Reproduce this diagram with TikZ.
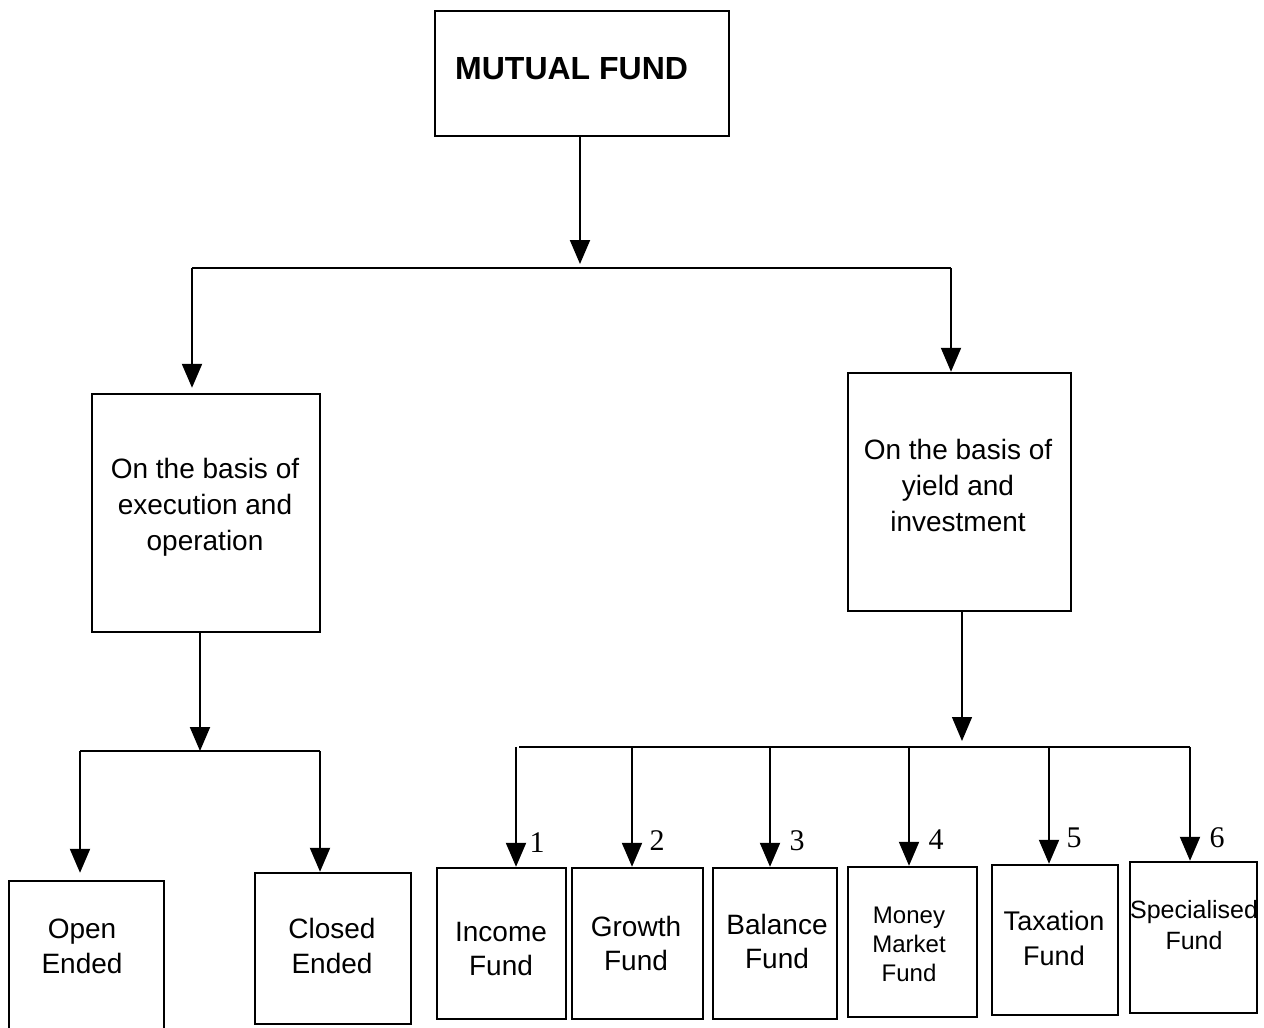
\documentclass[tikz,border=0pt]{standalone}
\usepackage{fontspec}
\setmainfont{Liberation Sans}
\newfontfamily\numfont{Liberation Serif}
\usetikzlibrary{arrows.meta}
\tikzset{
  box/.style={draw, line width=2.4pt, inner sep=0pt},
  arr/.style={-{Triangle[length=24pt,width=20pt]}, line width=2pt},
  ln/.style={line width=2pt},
  lab/.style={align=center, inner sep=0pt, font=\fontsize{28}{36}\selectfont},
  num/.style={inner sep=0pt, font=\numfont\fontsize{30}{30}\selectfont}
}
\begin{document}
\begin{tikzpicture}[x=1pt,y=-1pt]
\useasboundingbox (0,0) rectangle (1264,1028);
% boxes
\node[box, minimum width=294, minimum height=125] (top) at (582,73.5) {};
\node[box, minimum width=228, minimum height=238] (exec) at (206,513) {};
\node[box, minimum width=223, minimum height=238] (yield) at (959.5,492) {};
\node[box, minimum width=155, minimum height=159] (open) at (86.5,960.5) {};
\node[box, minimum width=156, minimum height=151] (closed) at (333,948.5) {};
\node[box, minimum width=129, minimum height=151] (income) at (501.5,943.5) {};
\node[box, minimum width=131, minimum height=151] (growth) at (637.5,943.5) {};
\node[box, minimum width=124, minimum height=151] (balance) at (775,943.5) {};
\node[box, minimum width=129, minimum height=150] (money) at (912.5,942) {};
\node[box, minimum width=126, minimum height=150] (tax) at (1055,940) {};
\node[box, minimum width=127, minimum height=151] (spec) at (1193.5,937.5) {};
% texts
\node[anchor=west, inner sep=0pt, font=\bfseries\fontsize{32}{36}\selectfont] (ttop) at (455,69) {MUTUAL FUND};
\node[lab] (texec) at (205,507) {On the basis of\\execution and\\operation};
\node[lab] (tyield) at (958,485) {On the basis of\\yield and\\investment};
\node[lab, font=\fontsize{28}{35}\selectfont] (topen) at (82,946) {Open\\Ended};
\node[lab, font=\fontsize{28}{35}\selectfont] (tclosed) at (332,946) {Closed\\Ended};
\node[lab, font=\fontsize{28}{34}\selectfont] (tincome) at (501,949) {Income\\Fund};
\node[lab, font=\fontsize{28}{34}\selectfont] (tgrowth) at (636,943) {Growth\\Fund};
\node[lab, font=\fontsize{28}{34}\selectfont] (tbalance) at (777,941) {Balance\\Fund};
\node[lab, font=\fontsize{24}{29}\selectfont] (tmoney) at (909,944) {Money\\Market\\Fund};
\node[lab, font=\fontsize{27}{35}\selectfont] (ttax) at (1054,938) {Taxation\\Fund};
\node[lab, font=\fontsize{25}{31}\selectfont] (tspec) at (1194,925) {Specialised\\Fund};
% numbers
\node[num] (n1) at (537,843) {1};
\node[num] (n2) at (657,841) {2};
\node[num] (n3) at (797,841) {3};
\node[num] (n4) at (936,840) {4};
\node[num] (n5) at (1074,838) {5};
\node[num] (n6) at (1217,838) {6};
% bar coordinates
\coordinate (b1) at (580,268);
\coordinate (b1l) at (192,268);
\coordinate (b1r) at (951,268);
\coordinate (b2) at (200,751);
\coordinate (b2l) at (80,751);
\coordinate (b2r) at (320,751);
\coordinate (b3) at (962,747);
\coordinate (b3l) at (519,747);
\coordinate (b3r) at (1190,747);
% connectors level 1
\draw[arr, shorten >=4pt] (top.south -| b1) -- (b1);
\draw[ln] (b1l) -- (b1r);
\draw[arr, shorten >=5pt] (b1l) -- (b1l |- exec.north);
\draw[arr] (b1r) -- (b1r |- yield.north);
% left branch
\draw[arr] (exec.south -| b2) -- (b2);
\draw[ln] (b2l) -- (b2r);
\draw[arr, shorten >=7pt] (b2l) -- (b2l |- open.north);
\draw[arr] (b2r) -- (b2r |- closed.north);
% right branch
\draw[arr, line width=1.3pt, shorten >=6pt] (yield.south -| b3) -- (b3);
\draw[ln] (b3l) -- (b3r);
\draw[arr] (516,747) -- (516,0 |- income.north);
\draw[arr] (632,747) -- (632,0 |- growth.north);
\draw[arr] (770,747) -- (770,0 |- balance.north);
\draw[arr] (909,747) -- (909,0 |- money.north);
\draw[arr] (1049,747) -- (1049,0 |- tax.north);
\draw[arr] (b3r) -- (b3r |- spec.north);
\end{tikzpicture}
\end{document}
